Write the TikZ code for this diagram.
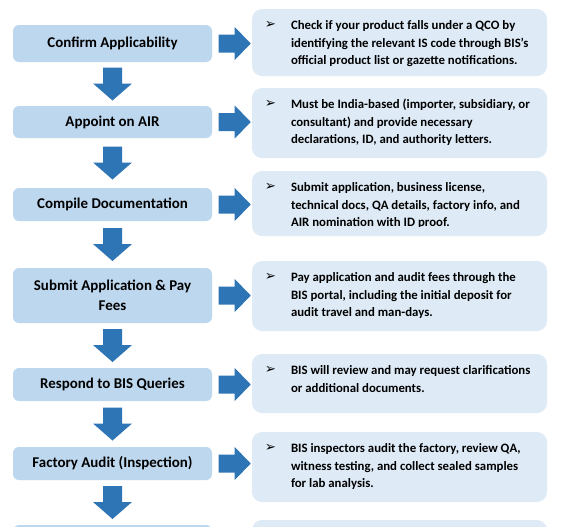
\documentclass[tikz,border=0pt]{standalone}
\usepackage{fontspec}
\usetikzlibrary{calc}
\setmainfont{Carlito}
\newfontfamily\symfont{DejaVu Sans}
\definecolor{stepfill}{HTML}{BDD7EE}
\definecolor{infofill}{HTML}{DEEBF7}
\definecolor{arrowc}{HTML}{2E75B6}
\tikzset{
  stepbox/.style={fill=stepfill, rounded corners=4.5pt, minimum width=149.25pt, inner sep=0pt, align=center,
    font=\bfseries\fontsize{11.2}{15}\selectfont},
  infobox/.style={fill=infofill, rounded corners=7.5pt, minimum width=221.25pt, inner sep=0pt},
  infotext/.style={anchor=north west, inner sep=0pt, align=left, font=\bfseries\fontsize{9.6}{13.1}\selectfont},
  bulletmark/.style={inner sep=0pt, font=\symfont\fontsize{10}{10}\selectfont},
  downarrow/.pic={\fill[arrowc] (-9.5,-16.5) -- (9.5,-16.5) -- (9.5,-0.5) -- (19.5,-0.5) -- (0,16.5) -- (-19.5,-0.5) -- (-9.5,-0.5) -- cycle;},
  rightarrow/.pic={\fill[arrowc] (-33,-9) -- (-17,-9) -- (-17,-16.5) -- (-1,0) -- (-17,16.5) -- (-17,9) -- (-33,9) -- cycle;}
}
\begin{document}
\begin{tikzpicture}[x=0.75pt,y=-0.75pt]
\path[use as bounding box, clip] (0,0) rectangle (566,526);
\fill[white] (0,0) rectangle (566,526);
% left step boxes
\node[stepbox, minimum height=27.75pt] (s1) at (112.5,43.5) {Confirm Applicability};
\node[stepbox, minimum height=24pt] (s2) at (112.5,122) {Appoint on AIR};
\node[stepbox, minimum height=24.75pt] (s3) at (112.5,204.5) {Compile Documentation};
\node[stepbox, minimum height=41.25pt] (s4) at (112.5,295.5) {Submit Application \& Pay\\Fees};
\node[stepbox, minimum height=24.75pt] (s5) at (112.5,384.5) {Respond to BIS Queries};
\node[stepbox, minimum height=24.75pt] (s6) at (112.5,463.5) {Factory Audit (Inspection)};
\node[stepbox, minimum height=24.75pt] (s7) at (112.5,541.5) {};
% right info boxes
\node[infobox, minimum height=50.25pt] (r1) at (399.5,42.5) {};
\node[infobox, minimum height=52.5pt] (r2) at (399.5,123) {};
\node[infobox, minimum height=48.75pt] (r3) at (399.5,203.5) {};
\node[infobox, minimum height=52.5pt] (r4) at (399.5,296) {};
\node[infobox, minimum height=44.25pt] (r5) at (399.5,383.5) {};
\node[infobox, minimum height=52.5pt] (r6) at (399.5,467) {};
\node[infobox, minimum height=52.5pt] (r7) at (399.5,555) {};
% bullets and texts
\foreach \r in {r1,r2,r3,r4,r5,r6}{
  \node[bulletmark] (b\r) at ([xshift=14pt,yshift=-12.2pt]\r.north west) {\char"27A2};
}
\node[infotext] (t1) at ([xshift=29.25pt,yshift=-6.55pt]r1.north west) {\strut Check if your product falls under a QCO by\\identifying the relevant IS code through BIS’s\\official product list or gazette notifications.};
\node[infotext] (t2) at ([xshift=29.25pt,yshift=-6.55pt]r2.north west) {\strut Must be India-based (importer, subsidiary, or\\consultant) and provide necessary\\declarations, ID, and authority letters.};
\begin{scope}
\clip (r3.north west) rectangle ([yshift=7pt]r3.south east);
\node[infotext] (t3) at ([xshift=29.25pt,yshift=-6.55pt]r3.north west) {\strut Submit application, business license,\\technical docs, QA details, factory info, and\\AIR nomination with ID proof.};
\end{scope}
\node[infotext] (t4) at ([xshift=29.25pt,yshift=-6.55pt]r4.north west) {\strut Pay application and audit fees through the\\BIS portal, including the initial deposit for\\audit travel and man-days.};
\node[infotext] (t5) at ([xshift=29.25pt,yshift=-6.55pt]r5.north west) {\strut BIS will review and may request clarifications\\or additional documents.};
\node[infotext] (t6) at ([xshift=29.25pt,yshift=-6.55pt]r6.north west) {\strut BIS inspectors audit the factory, review QA,\\witness testing, and collect sealed samples\\for lab analysis.};
% down arrows
\path ($(s1.south)!0.5!(s2.north)$) pic {downarrow};
\path ($(s2.south)!0.5!(s3.north)$) pic {downarrow};
\path ($(s3.south)!0.5!(s4.north)$) pic {downarrow};
\path ($(s4.south)!0.5!(s5.north)$) pic {downarrow};
\path ($(s5.south)!0.5!(s6.north)$) pic {downarrow};
\path ($(s6.south)!0.5!(s7.north)$) pic {downarrow};
% right arrows
\path (s1.east -| r1.west) pic {rightarrow};
\path (s2.east -| r2.west) pic {rightarrow};
\path (s3.east -| r3.west) pic {rightarrow};
\path (s4.east -| r4.west) pic {rightarrow};
\path (s5.east -| r5.west) pic {rightarrow};
\path (s6.east -| r6.west) pic {rightarrow};
\end{tikzpicture}
\end{document}
